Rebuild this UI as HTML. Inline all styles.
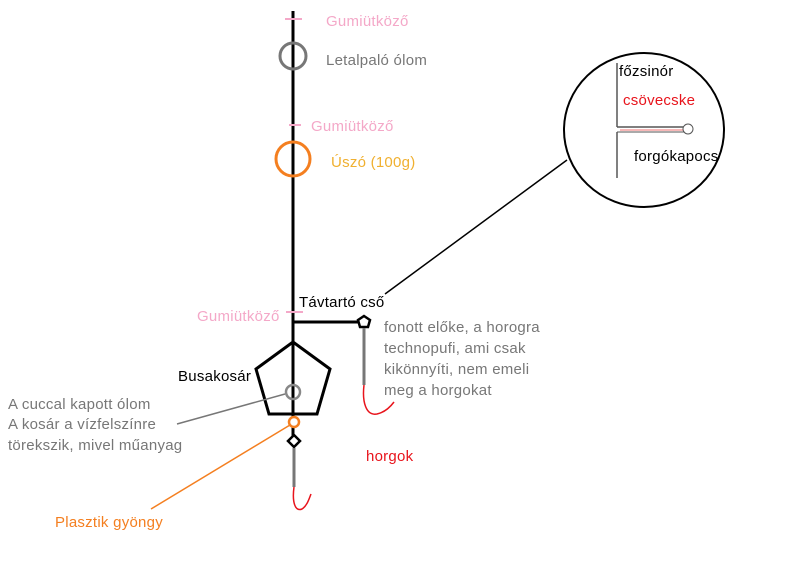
<!DOCTYPE html>
<html><head><meta charset="utf-8"><style>
html,body{margin:0;padding:0;background:#fff;width:800px;height:588px;overflow:hidden}
svg text{font-family:"Liberation Sans",sans-serif;font-size:15px;letter-spacing:0.25px}
</style></head><body>
<svg width="800" height="588" viewBox="0 0 800 588" xmlns="http://www.w3.org/2000/svg">
<line x1="293" y1="11" x2="293" y2="437" stroke="#000" stroke-width="3"/>
<line x1="285" y1="19" x2="302" y2="19" stroke="#f4a8c8" stroke-width="2"/>
<line x1="289" y1="125" x2="301" y2="125" stroke="#f4a8c8" stroke-width="2"/>
<line x1="286" y1="312" x2="303" y2="312" stroke="#f4a8c8" stroke-width="2"/>
<circle cx="293" cy="56" r="13" fill="none" stroke="#777" stroke-width="3"/>
<circle cx="293" cy="159" r="17" fill="none" stroke="#f47f20" stroke-width="3"/>
<line x1="293" y1="322" x2="362" y2="322" stroke="#000" stroke-width="3"/>
<polygon points="364,316 370,320 368,327 360,327 358,320" fill="#fff" stroke="#000" stroke-width="2.5"/>
<line x1="364" y1="328" x2="364" y2="385" stroke="#777" stroke-width="3"/>
<path d="M364,385 C362,402 366,416 377,414 C386,412 391,406 394,402" fill="none" stroke="#e8141c" stroke-width="1.5"/>
<polygon points="293,342 330,369 317,414 269,414 256,369" fill="none" stroke="#000" stroke-width="3"/>
<circle cx="293" cy="392" r="7" fill="none" stroke="#888" stroke-width="2.5"/>
<circle cx="294" cy="422" r="5" fill="#fff" stroke="#f47f20" stroke-width="2.5"/>
<polygon points="294,435 300,441 294,447 288,441" fill="#fff" stroke="#000" stroke-width="2.5"/>
<line x1="294" y1="448" x2="294" y2="487" stroke="#777" stroke-width="3"/>
<path d="M294,487 C292,502 295,512 302,509 C307,506 309,499 311,494" fill="none" stroke="#e8141c" stroke-width="1.5"/>
<line x1="177" y1="424" x2="285" y2="394" stroke="#777" stroke-width="1.5"/>
<line x1="151" y1="509" x2="290" y2="425" stroke="#f47f20" stroke-width="1.5"/>
<line x1="385" y1="294" x2="567" y2="160" stroke="#000" stroke-width="1.5"/>
<ellipse cx="644" cy="130" rx="80" ry="77" fill="none" stroke="#000" stroke-width="2"/>
<line x1="617" y1="63" x2="617" y2="127" stroke="#555" stroke-width="1.5"/>
<line x1="617" y1="127" x2="685" y2="127" stroke="#555" stroke-width="1.5"/>
<line x1="620" y1="130" x2="685" y2="130" stroke="#f4a0a0" stroke-width="1.5"/>
<line x1="617" y1="132" x2="685" y2="132" stroke="#555" stroke-width="1"/>
<line x1="617" y1="132" x2="617" y2="178" stroke="#555" stroke-width="1.5"/>
<circle cx="688" cy="129" r="5" fill="#fff" stroke="#555" stroke-width="1"/>
<text x="326" y="26" fill="#f4a8c8">Gumiütköző</text>
<text x="326" y="65" fill="#777">Letalpaló ólom</text>
<text x="311" y="131" fill="#f4a8c8">Gumiütköző</text>
<text x="331" y="167" fill="#f0b030">Úszó (100g)</text>
<text x="299" y="307" fill="#000">Távtartó cső</text>
<text x="197" y="321" fill="#f4a8c8">Gumiütköző</text>
<text fill="#777"><tspan x="384" y="332">fonott előke, a horogra</tspan><tspan x="384" y="353">technopufi, ami csak</tspan><tspan x="384" y="374">kikönnyíti, nem emeli</tspan><tspan x="384" y="395">meg a horgokat</tspan></text>
<text x="178" y="381" fill="#000">Busakosár</text>
<text fill="#777"><tspan x="8" y="409">A cuccal kapott ólom</tspan><tspan x="8" y="429">A kosár a vízfelszínre</tspan><tspan x="8" y="450">törekszik, mivel műanyag</tspan></text>
<text x="366" y="461" fill="#e8141c">horgok</text>
<text x="55" y="527" fill="#f47f20">Plasztik gyöngy</text>
<text x="619" y="76" fill="#000">főzsinór</text>
<text x="623" y="105" fill="#e8141c">csövecske</text>
<text x="634" y="161" fill="#000">forgókapocs</text>
</svg>
</body></html>
